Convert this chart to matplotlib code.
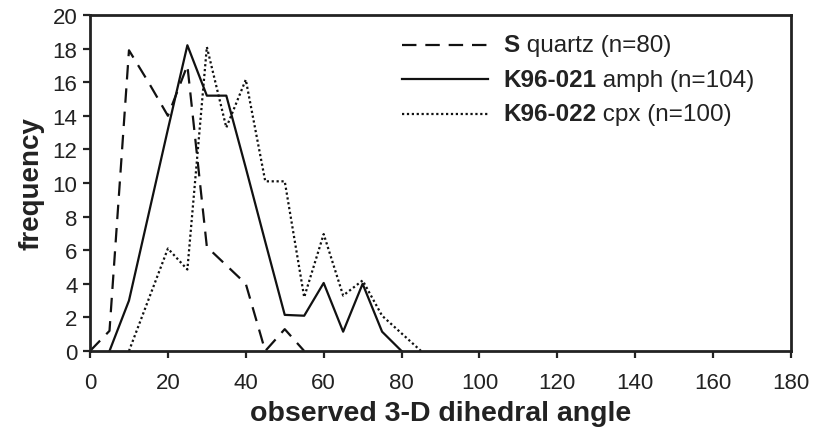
import matplotlib
matplotlib.use("Agg")
import numpy as np
from matplotlib import pyplot as plt
from matplotlib.lines import Line2D
from matplotlib.offsetbox import AnchoredOffsetbox, DrawingArea, HPacker, TextArea, VPacker

plt.rcParams["font.family"] = ["Liberation Sans", "DejaVu Sans"]

# data (frequency in %)
quartz_angle = [0, 5, 10, 15, 20, 25, 30, 35, 40, 45, 50, 55]
quartz_freq = [0, 1.2, 17.9, 16.0, 14.0, 17.0, 6.2, 5.1, 4.0, 0, 1.3, 0]

amph_angle = [5, 10, 15, 20, 25, 30, 35, 40, 45, 50, 55, 60, 65, 70, 75, 80]
amph_freq = [0, 3.0, 8.1, 13.2, 18.2, 15.2, 15.2, 10.9, 6.5, 2.15, 2.1, 4.05, 1.15, 4.0, 1.15, 0]

cpx_angle = [10, 15, 20, 25, 30, 35, 40, 45, 50, 55, 60, 65, 70, 75, 80, 85]
cpx_freq = [0, 3.05, 6.1, 4.85, 18.1, 13.3, 16.15, 10.1, 10.1, 3.2, 6.96, 3.3, 4.2, 2.1, 1.05, 0]

series = [
    ("S", " quartz (n=80)", quartz_angle, quartz_freq, (0, (6.5, 4))),
    ("K96-021", " amph (n=104)", amph_angle, amph_freq, "-"),
    ("K96-022", " cpx (n=100)", cpx_angle, cpx_freq, (0, (1, 1.2))),
]

fig = plt.figure(figsize=(8.14, 4.35), dpi=100)
ax = fig.add_axes([0.1106, 0.1908, 0.8611, 0.7724])

for _, _, xs, ys, ls in series:
    ax.plot(xs, ys, color="#111111", lw=1.6, ls=ls)

ax.set_xlim(0, 180)
ax.set_ylim(0, 20)
ax.set_xticks(np.arange(0, 181, 20))
ax.set_yticks(np.arange(0, 21, 2))
ax.tick_params(direction="out", length=5, width=1.6, labelsize=16, colors="#222222", pad=4)
ax.tick_params(axis="x", pad=10)
for sp in ax.spines.values():
    sp.set_linewidth(2)
    sp.set_color("#222222")

ax.set_xlabel("observed 3-D dihedral angle", fontsize=20.5, fontweight="bold", color="#222222", labelpad=5)
ax.set_ylabel("frequency", fontsize=20, fontweight="bold", color="#222222", labelpad=6)

# legend with a bold sample name followed by plain text
rows = []
for bold, rest, _, _, ls in series:
    da = DrawingArea(62, 12)
    da.add_artist(Line2D([0, 62], [6, 6], color="#111111", lw=1.6, ls=ls))
    txt = HPacker(children=[
        TextArea(bold, textprops=dict(fontsize=17.5, fontweight="bold", color="#222222")),
        TextArea(rest, textprops=dict(fontsize=17.5, color="#222222")),
    ], align="baseline", pad=0, sep=0)
    rows.append(HPacker(children=[da, txt], align="center", pad=0, sep=11))
box = VPacker(children=rows, align="left", pad=0, sep=8.3)
anchored = AnchoredOffsetbox(loc="upper left", child=box, frameon=False,
                             bbox_to_anchor=(0.445, 0.946), bbox_transform=ax.transAxes,
                             borderpad=0, pad=0)
ax.add_artist(anchored)

fig.savefig("out.png", dpi=100)
